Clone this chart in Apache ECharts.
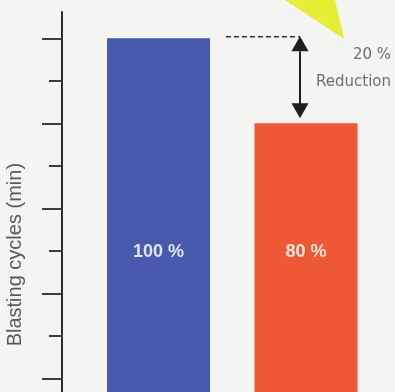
<!DOCTYPE html>
<html>
<head>
<meta charset="utf-8">
<script src="https://cdn.jsdelivr.net/npm/echarts@6/dist/echarts.min.js"></script>
<style>
  html, body { margin: 0; padding: 0; background: #f4f4f2; }
  #chart { width: 395px; height: 392px; }
</style>
</head>
<body>
<div id="chart"></div>
<script>
// Blasting cycle duration, relative to the conventional method
const categories = ['Conventional', 'Optimised'];
const cycleShares = [100, 80];
const barLabels = ['100 %', '80 %'];
const barColors = ['#4859ae', '#ee5835'];
const majorTicks = [0, 20, 40, 60, 80, 100];
const minorTicks = [10, 30, 50, 70, 90];
const reductionText = ['20 %', 'Reduction'];

const BAR_WIDTH = 103;
const AXIS_MAX = 106.2;

const chart = echarts.init(document.getElementById('chart'), null, { renderer: 'canvas' });

const tickStyle = { color: '#3c3c3c', width: 2 };

const option = {
  backgroundColor: '#f4f4f2',
  animation: false,
  grid: { left: 84.75, right: 15.25, top: 12, bottom: -71.3, outerBoundsMode: 'none' },
  xAxis: {
    type: 'category',
    data: categories,
    show: false
  },
  yAxis: [
    {
      type: 'value', min: 0, max: AXIS_MAX, position: 'left', offset: 22.75,
      axisLine: { show: true, lineStyle: { color: '#2e2e2e', width: 2 } },
      axisTick: { show: true, customValues: minorTicks, length: 13, lineStyle: tickStyle },
      axisLabel: { show: false },
      splitLine: { show: false },
      name: 'Blasting cycles (min)',
      nameLocation: 'middle',
      nameGap: 37,
      nameTextStyle: {
        fontFamily: 'Liberation Sans, Arial, sans-serif',
        fontSize: 20,
        color: '#5a5a5a',
        padding: [0, 34, 0, 0]
      }
    },
    {
      type: 'value', min: 0, max: AXIS_MAX, position: 'left', offset: 22.75,
      axisLine: { show: false },
      axisTick: { show: true, customValues: majorTicks, length: 20, lineStyle: tickStyle },
      axisLabel: { show: false },
      splitLine: { show: false }
    }
  ],
  series: [{
    type: 'bar',
    barWidth: BAR_WIDTH,
    data: cycleShares.map((v, i) => ({ value: v, itemStyle: { color: barColors[i] } })),
    label: {
      show: true,
      position: 'insideBottom',
      distance: 202,
      formatter: p => barLabels[p.dataIndex],
      color: 'rgba(255,255,255,0.84)',
      fontFamily: 'Liberation Sans, Arial, sans-serif',
      fontWeight: 'bold',
      fontSize: 18
    }
  }]
};

chart.setOption(option);

// Reduction annotation: dashed level line, double arrow and caption
function drawAnnotation() {
  const yTop = chart.convertToPixel({ yAxisIndex: 0 }, cycleShares[0]);
  const yLow = chart.convertToPixel({ yAxisIndex: 0 }, cycleShares[1]);
  const xFirst = chart.convertToPixel({ xAxisIndex: 0 }, 0);
  const xSecond = chart.convertToPixel({ xAxisIndex: 0 }, 1);
  const arrowX = xSecond - 6;
  const head = 15, half = 8.5;
  const lowTip = yLow - 5;
  const ink = '#1f1f1f';

  chart.setOption({
    graphic: [
      {
        type: 'polygon',
        shape: { points: [[285, 0], [335, 0], [344, 39]] },
        style: { fill: '#e6ee33' },
        silent: true
      },
      {
        type: 'line',
        shape: { x1: xFirst + BAR_WIDTH / 2 + 16, y1: yTop - 1.5, x2: arrowX, y2: yTop - 1.5 },
        style: { stroke: '#333333', lineWidth: 1.5, lineDash: [5, 3] },
        silent: true
      },
      {
        type: 'line',
        shape: { x1: arrowX, y1: yTop + head - 2, x2: arrowX, y2: lowTip - head + 2 },
        style: { stroke: ink, lineWidth: 2 },
        silent: true
      },
      {
        type: 'polygon',
        shape: { points: [[arrowX, yTop - 2], [arrowX - half, yTop - 2 + head], [arrowX + half, yTop - 2 + head]] },
        style: { fill: ink },
        silent: true
      },
      {
        type: 'polygon',
        shape: { points: [[arrowX, lowTip], [arrowX - half, lowTip - head], [arrowX + half, lowTip - head]] },
        style: { fill: ink },
        silent: true
      },
      {
        type: 'text',
        x: 391, y: 55,
        style: {
          text: reductionText[0], align: 'right', verticalAlign: 'middle',
          fontFamily: 'DejaVu Sans, sans-serif', fontSize: 15, fill: '#6e6e6e'
        },
        silent: true
      },
      {
        type: 'text',
        x: 391, y: 82.5,
        style: {
          text: reductionText[1], align: 'right', verticalAlign: 'middle',
          fontFamily: 'DejaVu Sans, sans-serif', fontSize: 15, fill: '#6e6e6e'
        },
        silent: true
      }
    ]
  });
}

drawAnnotation();
</script>
</body>
</html>
